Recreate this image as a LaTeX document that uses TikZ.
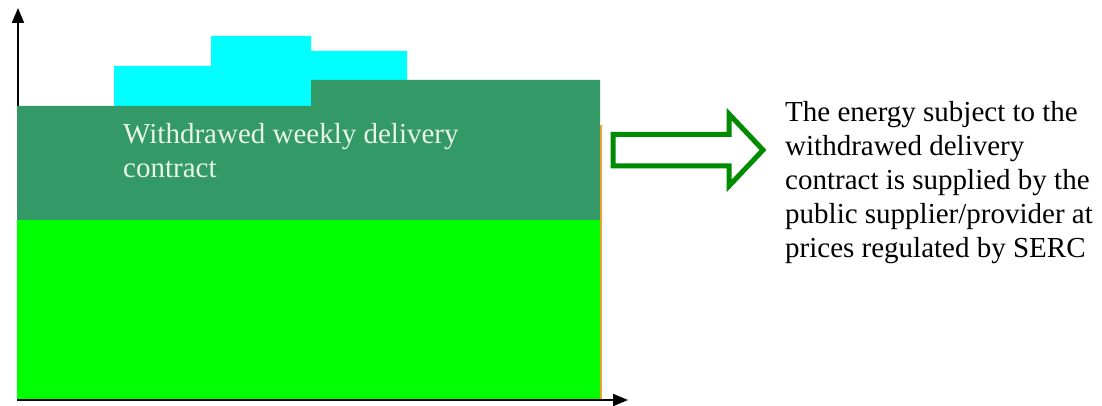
\documentclass[tikz,border=0pt]{standalone}
\usepackage{fontspec}
\setmainfont{Liberation Serif}
\usetikzlibrary{arrows.meta}

\definecolor{seagreen}{RGB}{51,153,102}
\definecolor{brightgreen}{RGB}{0,255,0}
\definecolor{skycyan}{RGB}{0,255,255}
\definecolor{arrowgreen}{RGB}{0,140,0}
\definecolor{edgeorange}{RGB}{240,160,48}
\definecolor{paletext}{RGB}{232,244,232}

\tikzset{
  axis/.style={line width=2pt, -{Triangle[length=15pt,width=12pt]}},
  band/.style={draw=none},
  outlinearrow/.style={draw=arrowgreen, line width=5pt, fill=white, line join=miter},
  % multi-line labels are anchored at the baseline of their last line
  label/.style={anchor=base west, inner sep=0pt, align=left,
    font=\fontsize{29}{34}\selectfont}
}

\begin{document}
\begin{tikzpicture}[x=1pt, y=-1pt]
  \useasboundingbox (0,0) rectangle (1102,406);

  % axes
  \coordinate (origin) at (18,400);
  \coordinate (ytip) at (18,8);
  \coordinate (xorigin) at (17,400);
  \coordinate (xtip) at (628,400);
  \draw[axis] (origin) -- (ytip);
  \draw[axis] (xorigin) -- (xtip);

  % weekly blocks on top
  \fill[skycyan, band] (114,106) -- (114,66) -- (211,66) -- (211,36) -- (311,36)
    -- (311,51) -- (407,51) -- (407,80) -- (311,80) -- (311,106) -- cycle;

  % withdrawn weekly delivery contract
  \fill[seagreen, band] (17,106) -- (311,106) -- (311,80) -- (600,80)
    -- (600,220) -- (17,220) -- cycle;

  % base supply
  \fill[brightgreen, band] (17,220) rectangle (600,399);

  % thin right edge
  \coordinate (edgetop) at (601,125);
  \coordinate (edgebot) at (601,399);
  \draw[edgeorange, line width=1.5pt] (edgetop) -- (edgebot);

  % hollow block arrow
  \draw[outlinearrow] (613,134.5) -- (729,134.5) -- (729,114) -- (763,150)
    -- (729,186) -- (729,166) -- (613,166) -- cycle;

  % texts
  \node[label, text=paletext] (contract) at (123,178)
    {Withdrawed weekly delivery\\contract};
  \node[label, text=black] (note) at (785,257)
    {The energy subject to the\\withdrawed delivery\\contract is supplied by the\\public supplier/provider at\\prices regulated by SERC};
\end{tikzpicture}
\end{document}
